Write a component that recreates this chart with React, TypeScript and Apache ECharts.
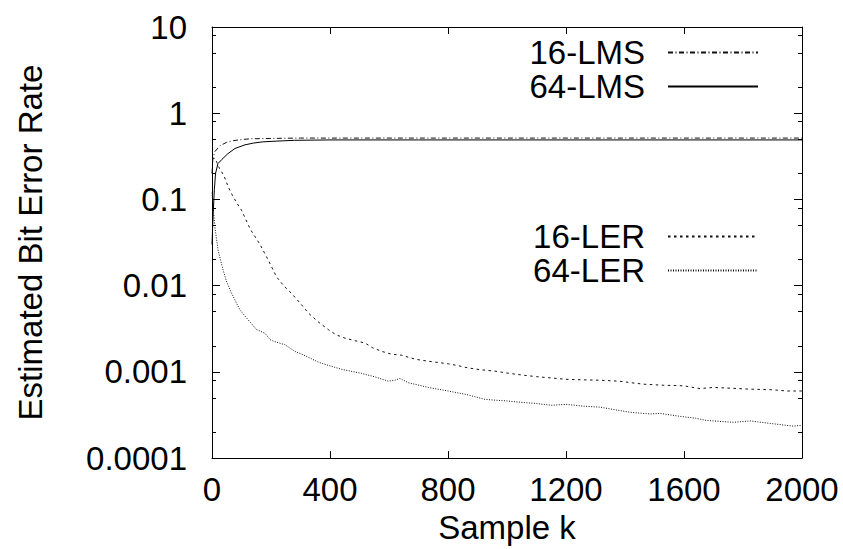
import React, { useEffect, useRef } from "react";
import * as echarts from "echarts";

const FONT = "'Liberation Sans', Arial, Helvetica, sans-serif";

const seriesNames = ["16-LMS", "64-LMS", "16-LER", "64-LER"];
const xTickLabels = ["0", "400", "800", "1200", "1600", "2000"];
const yTickLabels = ["0.0001", "0.001", "0.01", "0.1", "1", "10"];
const minorMultipliers = [2, 5, 8];

const lms16: [number, number][] = [
  [0, 0.2], [3, 0.3], [10, 0.36], [27, 0.42], [50, 0.46], [72, 0.48], [100, 0.495],
  [130, 0.505], [200, 0.51], [300, 0.515], [500, 0.515], [800, 0.515], [1100, 0.515],
  [1400, 0.515], [1700, 0.515], [2000, 0.515],
];

const lms64: [number, number][] = [
  [0, 0.03], [4, 0.07], [8, 0.13], [12, 0.2], [20, 0.26], [33, 0.29], [54, 0.34],
  [78, 0.39], [112, 0.43], [140, 0.45], [170, 0.465], [220, 0.475], [280, 0.485],
  [400, 0.49], [700, 0.49], [1000, 0.49], [1300, 0.49], [1600, 0.49], [2000, 0.49],
];

const ler16: [number, number][] = [
  [0, 0.3], [10, 0.3], [16, 0.27], [25, 0.23], [40, 0.19], [55, 0.14], [70, 0.11],
  [85, 0.09], [100, 0.075], [130, 0.045], [163, 0.03], [190, 0.02], [219, 0.0126],
  [245, 0.0098], [270, 0.0081], [300, 0.0062], [327, 0.0048], [360, 0.0038],
  [394, 0.0031], [420, 0.0027], [451, 0.00246], [485, 0.0023], [519, 0.00216],
  [545, 0.0019], [575, 0.00173], [610, 0.0016], [643, 0.00156], [690, 0.0014],
  [733, 0.00133], [770, 0.00128], [801, 0.00124], [835, 0.00118], [869, 0.00111],
  [910, 0.00106], [959, 0.00102], [1000, 0.00097], [1050, 0.00092], [1100, 0.00088],
  [1150, 0.00085], [1200, 0.00082], [1250, 0.00081], [1315, 0.0008], [1380, 0.00078],
  [1462, 0.00072], [1530, 0.0007], [1598, 0.00069], [1654, 0.00064], [1700, 0.00066],
  [1745, 0.00065], [1824, 0.00063], [1900, 0.00062], [1950, 0.0006], [2000, 0.0006],
];

const ler64: [number, number][] = [
  [0, 0.12], [4, 0.08], [10, 0.047], [21, 0.0254], [38, 0.015], [50, 0.011],
  [67, 0.0081], [95, 0.0052], [123, 0.004], [151, 0.0031], [180, 0.0028],
  [197, 0.00236], [220, 0.0022], [247, 0.00207], [281, 0.00173], [305, 0.0016],
  [332, 0.00145], [360, 0.0013], [394, 0.00119], [440, 0.00107], [507, 0.00096],
  [550, 0.00088], [598, 0.00078], [620, 0.0008], [637, 0.00084], [665, 0.00075],
  [733, 0.00066], [801, 0.0006], [869, 0.00054], [925, 0.00048], [959, 0.00047],
  [1000, 0.00046], [1060, 0.00044], [1100, 0.00043], [1150, 0.00041], [1200, 0.00042],
  [1260, 0.0004], [1315, 0.00039], [1417, 0.00034], [1485, 0.000325], [1519, 0.00033],
  [1586, 0.000305], [1640, 0.00029], [1677, 0.000273], [1767, 0.00026], [1824, 0.00027],
  [1903, 0.00025], [1970, 0.000235], [2000, 0.00024],
];

export default function App() {
  const ref = useRef<HTMLDivElement>(null);

  useEffect(() => {
    document.body.style.margin = "0";
    if (!ref.current) return;
    const chart = echarts.init(ref.current, null, { renderer: "svg" });

    const minorTicks: number[] = [];
    for (let d = -4; d <= 0; d++) {
      for (const m of minorMultipliers) minorTicks.push(d + Math.log10(m));
    }

    const axisLine = { show: true, onZero: false, lineStyle: { color: "#000", width: 1 } };
    const txt = { color: "#000", fontFamily: FONT, fontSize: 33 };

    const legendBase = {
      orient: "vertical" as const,
      align: "right" as const,
      right: 84,
      itemWidth: 90,
      itemHeight: 14,
      itemGap: 1,
      padding: 0,
      selectedMode: false,
      itemStyle: { color: "rgba(0,0,0,0)", borderWidth: 0, opacity: 0 },
      textStyle: { ...txt, lineHeight: 32, padding: [0, 18, 0, 0] },
    };

    chart.setOption({
      animation: false,
      backgroundColor: "#fff",
      grid: { left: 212, right: 41, top: 27, bottom: 86, containLabel: false },
      legend: [
        { ...legendBase, data: [seriesNames[0], seriesNames[1]], top: 36 },
        { ...legendBase, data: [seriesNames[2], seriesNames[3]], top: 220 },
      ],
      xAxis: [
        {
          type: "value",
          position: "bottom",
          min: 0,
          max: 2000,
          interval: 400,
          axisLine,
          axisTick: { show: true, inside: true, length: 7, lineStyle: { color: "#000" } },
          axisLabel: {
            ...txt,
            margin: 15,
            formatter: (v: number) => xTickLabels[Math.round(v / 400)],
          },
          splitLine: { show: false },
          name: "Sample k",
          nameLocation: "middle",
          nameGap: 48,
          nameTextStyle: txt,
        },
        {
          type: "value",
          position: "top",
          min: 0,
          max: 2000,
          interval: 400,
          axisLine,
          axisTick: { show: true, inside: true, length: 7, lineStyle: { color: "#000" } },
          axisLabel: { show: false },
          splitLine: { show: false },
        },
      ],
      yAxis: [
        {
          type: "log",
          logBase: 10,
          position: "left",
          min: 0.0001,
          max: 10,
          axisLine,
          axisTick: { show: true, inside: true, length: 8, lineStyle: { color: "#000" } },
          axisLabel: {
            ...txt,
            margin: 25,
            formatter: (v: number) => yTickLabels[Math.round(Math.log10(v)) + 4],
          },
          splitLine: { show: false },
          minorTick: { show: false },
          name: "Estimated Bit Error Rate",
          nameLocation: "middle",
          nameGap: 165,
          nameTextStyle: txt,
        },
        {
          type: "value",
          position: "left",
          min: -4,
          max: 1,
          axisLine: { show: false, onZero: false },
          axisTick: {
            show: true,
            inside: true,
            length: 4,
            customValues: minorTicks,
            lineStyle: { color: "#000" },
          },
          axisLabel: { show: false },
          splitLine: { show: false },
        },
        {
          type: "log",
          logBase: 10,
          position: "right",
          min: 0.0001,
          max: 10,
          axisLine,
          axisTick: { show: true, inside: true, length: 8, lineStyle: { color: "#000" } },
          axisLabel: { show: false },
          splitLine: { show: false },
        },
        {
          type: "value",
          position: "right",
          min: -4,
          max: 1,
          axisLine: { show: false, onZero: false },
          axisTick: {
            show: true,
            inside: true,
            length: 4,
            customValues: minorTicks,
            lineStyle: { color: "#000" },
          },
          axisLabel: { show: false },
          splitLine: { show: false },
        },
      ],
      series: [
        {
          name: seriesNames[0],
          type: "line",
          data: lms16,
          symbol: "none",
          color: "#000",
          lineStyle: { color: "#111", width: 1, type: [5, 2.5, 1, 2.5] },
        },
        {
          name: seriesNames[1],
          type: "line",
          data: lms64,
          symbol: "none",
          color: "#000",
          lineStyle: { color: "#000", width: 1, type: "solid" },
        },
        {
          name: seriesNames[2],
          type: "line",
          data: ler16,
          symbol: "none",
          color: "#000",
          lineStyle: { color: "#111", width: 1, type: [2.5, 3.5] },
        },
        {
          name: seriesNames[3],
          type: "line",
          data: ler64,
          symbol: "none",
          color: "#000",
          lineStyle: { color: "#111", width: 1, type: [1, 1.5] },
        },
      ],
    });

    return () => chart.dispose();
  }, []);

  return <div ref={ref} style={{ width: 843, height: 549 }} />;
}
